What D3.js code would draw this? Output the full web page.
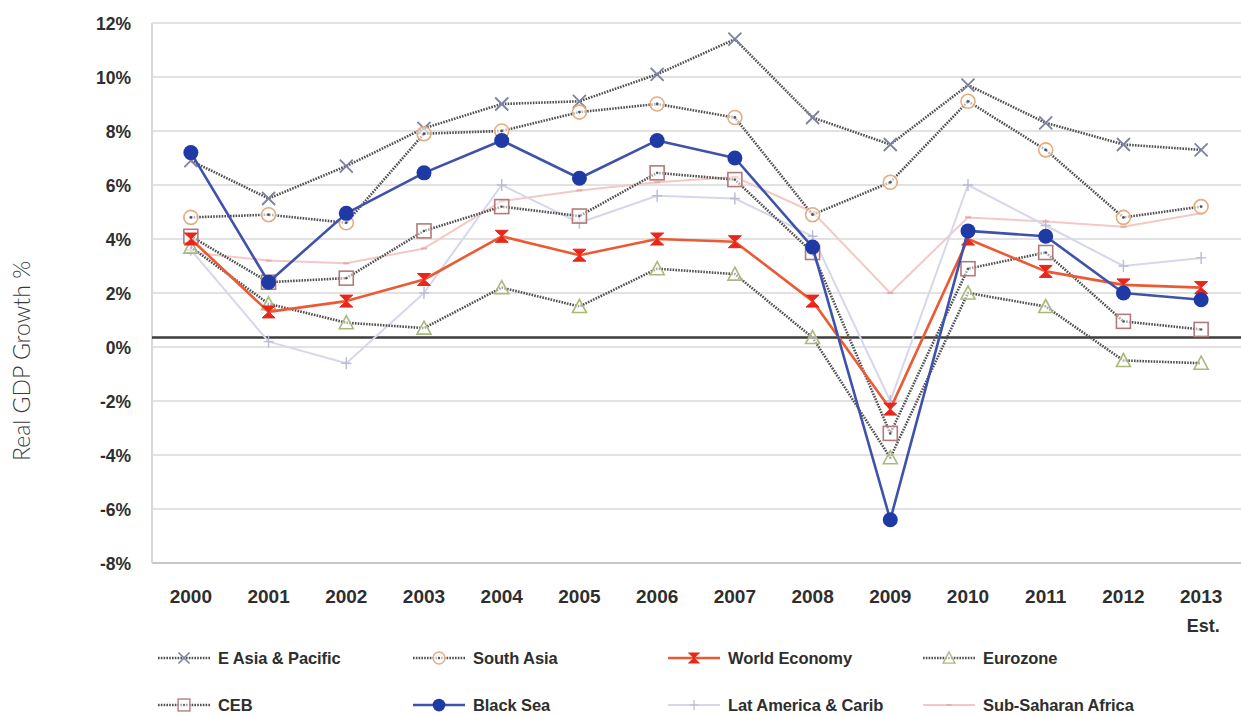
<!DOCTYPE html>
<html>
<head>
<meta charset="utf-8">
<script src="https://cdn.jsdelivr.net/npm/d3@7"></script>
<style>
  html, body { margin: 0; padding: 0; background: #fff; }
  svg { display: block; }
</style>
</head>
<body>
<svg id="chart" width="1241" height="715"></svg>
<script>
// ---------- DATA ----------
const years = ["2000","2001","2002","2003","2004","2005","2006","2007","2008","2009","2010","2011","2012","2013"];
const yTicks = [-8,-6,-4,-2,0,2,4,6,8,10,12];

const eAsiaPacific   = [6.9, 5.5, 6.7, 8.1, 9.0, 9.1, 10.1, 11.4, 8.5, 7.5, 9.7, 8.3, 7.5, 7.3];
const southAsia      = [4.8, 4.9, 4.6, 7.9, 8.0, 8.7, 9.0, 8.5, 4.9, 6.1, 9.1, 7.3, 4.8, 5.2];
const worldEconomy   = [4.0, 1.3, 1.7, 2.5, 4.1, 3.4, 4.0, 3.9, 1.7, -2.3, 4.0, 2.8, 2.3, 2.2];
const eurozone       = [3.7, 1.6, 0.9, 0.7, 2.2, 1.5, 2.9, 2.7, 0.35, -4.1, 2.0, 1.5, -0.5, -0.6];
const ceb            = [4.1, 2.4, 2.55, 4.3, 5.2, 4.85, 6.45, 6.2, 3.5, -3.2, 2.9, 3.5, 0.95, 0.65];
const blackSea       = [7.2, 2.4, 4.95, 6.45, 7.65, 6.25, 7.65, 7.0, 3.7, -6.4, 4.3, 4.1, 2.0, 1.75];
const latAmerica     = [3.6, 0.2, -0.6, 2.0, 6.0, 4.6, 5.6, 5.5, 4.1, -2.0, 6.0, 4.5, 3.0, 3.3];
const subSaharan     = [3.5, 3.2, 3.1, 3.65, 5.4, 5.8, 6.1, 6.3, 5.0, 2.0, 4.8, 4.65, 4.45, 4.95];
const baselineValue  = 0.35;

// ---------- SERIES STYLES ----------
const series = [
  {name:"Sub-Saharan Africa", values:subSaharan, line:"#f2c9c6", width:2, dash:null, marker:"dash", mcolor:"#e9a9a4"},
  {name:"Lat America & Carib", values:latAmerica, line:"#d6d8ea", width:2, dash:null, marker:"plus", mcolor:"#b8bbd3"},
  {name:"E Asia & Pacific", values:eAsiaPacific, line:"#505050", width:2.6, dash:"1.6,1.2", marker:"x", mcolor:"#7d82a0"},
  {name:"South Asia", values:southAsia, line:"#505050", width:2.6, dash:"1.6,1.2", marker:"circle", mcolor:"#e3ad80"},
  {name:"Eurozone", values:eurozone, line:"#505050", width:2.6, dash:"1.6,1.2", marker:"triangle", mcolor:"#a9b97c"},
  {name:"CEB", values:ceb, line:"#505050", width:2.6, dash:"1.6,1.2", marker:"square", mcolor:"#b27b7b"},
  {name:"World Economy", values:worldEconomy, line:"#ec5a34", width:2.6, dash:null, marker:"hourglass", mcolor:"#e8261c"},
  {name:"Black Sea", values:blackSea, line:"#3f52aa", width:2.6, dash:null, marker:"dot", mcolor:"#1f3aa5"}
];

const legendOrder = ["E Asia & Pacific","South Asia","World Economy","Eurozone","CEB","Black Sea","Lat America & Carib","Sub-Saharan Africa"];

// ---------- LAYOUT ----------
const svg = d3.select("#chart");
const plotLeft = 152, plotRight = 1240, plotTop = 23, plotBottom = 563;
const FONT = "'Liberation Sans', Arial, Helvetica, sans-serif";

const x = d3.scaleBand().domain(years).range([plotLeft, plotRight]).padding(0);
const xc = d => x(d) + x.bandwidth()/2;
const y = d3.scaleLinear().domain([-8, 12]).range([plotBottom, plotTop]);

// gridlines
svg.append("g").selectAll("line").data(yTicks).join("line")
  .attr("x1", plotLeft).attr("x2", 1241)
  .attr("y1", d => y(d)).attr("y2", d => y(d))
  .attr("stroke", d => d === -8 ? "#c8c8c8" : "#e2e2e2")
  .attr("stroke-width", 2);

// left border
svg.append("line").attr("x1", plotLeft).attr("x2", plotLeft)
  .attr("y1", y(12)).attr("y2", y(-8)).attr("stroke", "#d8d8d8").attr("stroke-width", 2);

// y axis labels
const yAxis = d3.axisLeft(y).tickValues(yTicks).tickFormat(d => d + "%").tickSize(0).tickPadding(0);
const gy = svg.append("g").attr("transform", "translate(131,1)").call(yAxis);
gy.select(".domain").remove();
gy.selectAll("text").attr("font-family", FONT)
  .attr("font-size", 17.5).attr("font-weight", "bold").attr("fill", "#2e2e2e");

// x axis labels
const xAxis = d3.axisBottom(x).tickSize(0).tickPadding(0);
const gx = svg.append("g").attr("transform", "translate(0,589)").call(xAxis);
gx.select(".domain").remove();
gx.selectAll("text").attr("font-family", FONT)
  .attr("font-size", 19).attr("font-weight", "bold").attr("fill", "#2e2e2e");
svg.append("text").attr("x", xc("2013") + 2).attr("y", 632).attr("text-anchor", "middle")
  .attr("font-family", FONT).attr("font-size", 18)
  .attr("font-weight", "bold").attr("fill", "#2e2e2e").text("Est.");

// y title
svg.append("text").attr("transform", "translate(30,361) rotate(-90)")
  .attr("text-anchor", "middle").attr("font-family", "Lato, 'Open Sans', sans-serif")
  .attr("font-weight", 300).attr("font-size", 23).attr("fill", "#3a3a3a").text("Real GDP Growth %");

// baseline
svg.append("line").attr("x1", plotLeft).attr("x2", 1241)
  .attr("y1", y(baselineValue)).attr("y2", y(baselineValue))
  .attr("stroke", "#3d3d3d").attr("stroke-width", 2.5);

// ---------- MARKERS ----------
function drawMarker(g, type, color) {
  switch (type) {
    case "x":
      g.append("path").attr("d", "M-6.5,-6.5L6.5,6.5M-6.5,6.5L6.5,-6.5").attr("stroke", color).attr("stroke-width", 1.8).attr("fill", "none");
      break;
    case "circle":
      g.append("circle").attr("r", 7).attr("fill", "#fff").attr("fill-opacity", 0.6).attr("stroke", color).attr("stroke-width", 1.6);
      g.append("circle").attr("r", 1.4).attr("fill", "#555");
      break;
    case "triangle":
      g.append("path").attr("d", "M0,-7L7,6L-7,6Z").attr("fill", "#fff").attr("fill-opacity", 0.5).attr("stroke", color).attr("stroke-width", 1.6);
      break;
    case "square":
      g.append("rect").attr("x", -7).attr("y", -7).attr("width", 14).attr("height", 14)
        .attr("fill", "#fff").attr("fill-opacity", 0.5).attr("stroke", color).attr("stroke-width", 1.6);
      g.append("circle").attr("r", 1.2).attr("fill", "#555");
      break;
    case "hourglass":
      g.append("path").attr("d", "M-6.5,-6L6.5,-6L-6.5,6L6.5,6Z").attr("fill", color).attr("stroke", color).attr("stroke-width", 1);
      break;
    case "dot":
      g.append("circle").attr("r", 7.5).attr("fill", color);
      break;
    case "plus":
      g.append("path").attr("d", "M-5,0L5,0M0,-6L0,6").attr("stroke", color).attr("stroke-width", 1.4);
      break;
    case "dash":
      g.append("path").attr("d", "M-3,0L3,0").attr("stroke", color).attr("stroke-width", 2);
      break;
  }
}

// ---------- LINES ----------
const lineGen = d3.line().x((d, i) => xc(years[i])).y(d => y(d));
series.forEach(s => {
  const g = svg.append("g");
  g.append("path").datum(s.values).attr("d", lineGen)
    .attr("fill", "none").attr("stroke", s.line).attr("stroke-width", s.width)
    .attr("stroke-dasharray", s.dash).attr("stroke-linejoin", "round");
  s.values.forEach((v, i) => {
    const mg = g.append("g").attr("transform", `translate(${xc(years[i])},${y(v)})`);
    drawMarker(mg, s.marker, s.mcolor);
  });
});

// ---------- LEGEND ----------
const legCols = [158, 413, 668, 923];
const legRows = [658, 705];
legendOrder.forEach((name, i) => {
  const s = series.find(d => d.name === name);
  const cx = legCols[i % 4], cy = legRows[Math.floor(i / 4)];
  const g = svg.append("g").attr("transform", `translate(${cx},${cy})`);
  g.append("line").attr("x1", 0).attr("x2", 52).attr("y1", 0).attr("y2", 0)
    .attr("stroke", s.line).attr("stroke-width", s.width).attr("stroke-dasharray", s.dash);
  const mg = g.append("g").attr("transform", "translate(26,0) scale(0.85)");
  drawMarker(mg, s.marker, s.mcolor);
  g.append("text").attr("x", 60).attr("y", 0).attr("dy", "0.35em")
    .attr("font-family", FONT)
    .attr("font-size", 16.5).attr("font-weight", "bold").attr("letter-spacing", -0.1)
    .attr("fill", "#2e2e2e").text(name);
});
</script>
</body>
</html>
